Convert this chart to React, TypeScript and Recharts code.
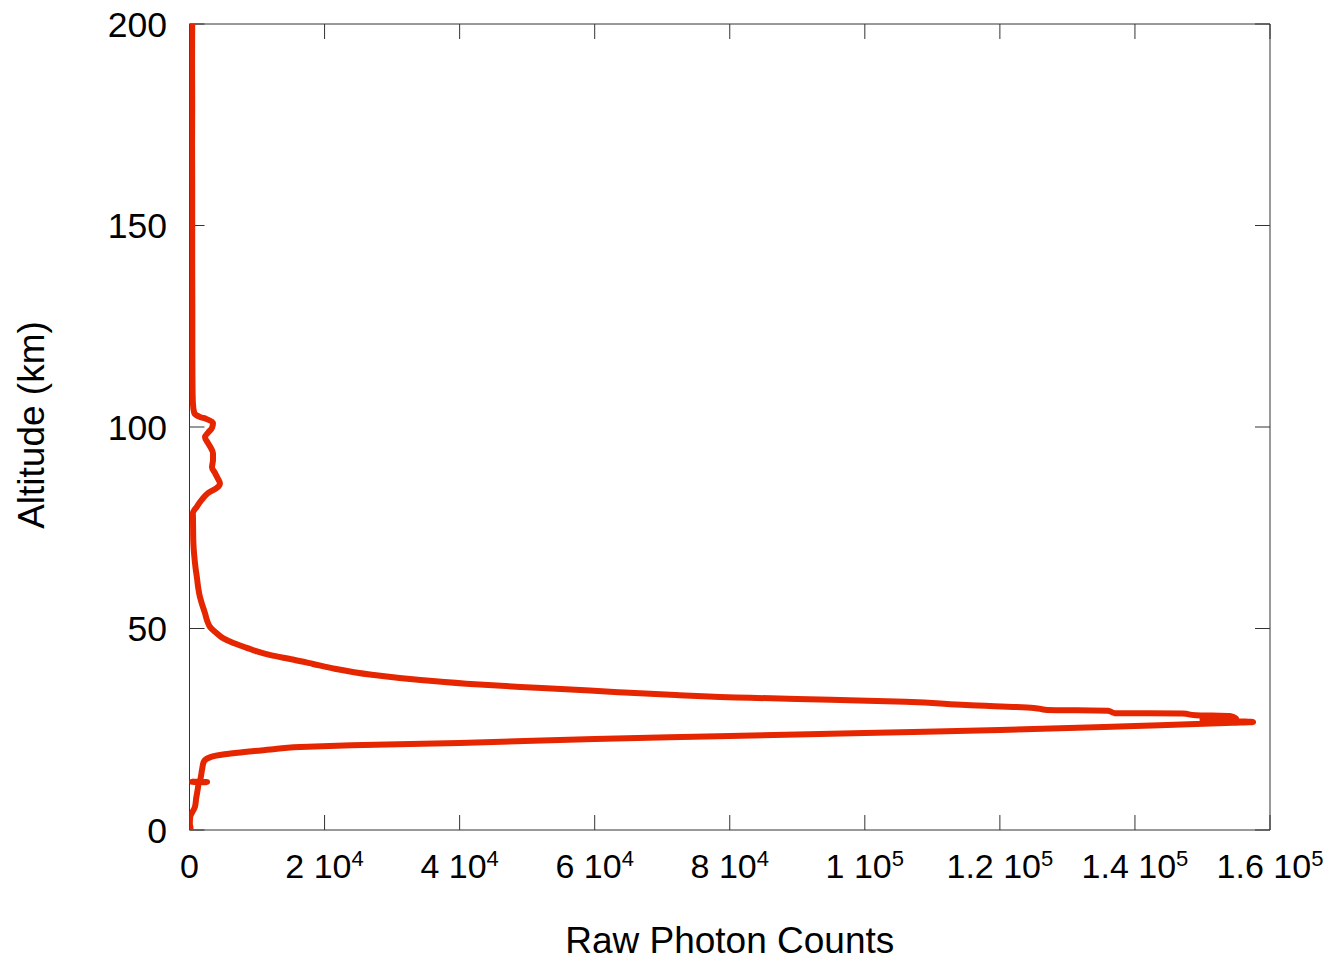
import { ScatterChart, Scatter, XAxis, YAxis, Label } from 'recharts';

// altitude (km) and raw counts, bottom to top
const altitudeKm = [
  0, 0.5, 1.5, 3.2, 5.7, 8, 9.9, 11.8, 11.9, 11.95, 12.0, 14.9, 16.9, 18.1, 18.8,
  19.4, 20.0, 20.6, 21.0, 21.6, 22.6, 23.3, 24.1, 24.8, 25.8, 26.6, 26.8, 27.3,
  27.6, 28.3, 28.5, 28.9, 29.0, 29.6, 29.8, 30.3, 31.0, 31.8, 32.3, 32.8, 33.5,
  34.2, 35.0, 35.5, 36.3, 37.2, 38.5, 40.0, 41.2, 42.3, 43.4, 44.3, 45.2, 46.4,
  47.6, 49.0, 50.4, 52.0, 53.8, 55.8, 57.8, 60.0, 62.5, 65.0, 68.7, 72.0, 76.9,
  78.6, 80.2, 81.9, 83.6, 84.9, 86.0, 87.2, 88.6, 90.0, 91.8, 93.5, 95.0, 96.0,
  97.5, 98.7, 99.8, 101.0, 102.0, 102.5, 103.5, 106, 110, 120, 130, 140, 150, 160,
  170, 180, 190, 200,
];
const photonCounts = [
  100, 150, 50, 100, 800, 1000, 1200, 1400, 2600, 300, 1500, 1850, 2100, 3100, 5200,
  8500, 12000, 16400, 24000, 40000, 60000, 80000, 100000, 120000, 140000, 154500, 157500, 150000,
  155000, 154000, 149000, 147000, 137000, 136000, 127000, 125000, 115000, 106000, 95000, 83000, 72000,
  63500, 55000, 49000, 41000, 34200, 27000, 21500, 18300, 15300, 12000, 10000, 8500, 6500,
  4960, 3900, 3030, 2600, 2290, 1900, 1550, 1300, 1110, 900, 670, 560, 520,
  500, 1070, 1800, 2740, 4070, 4510, 4200, 3770, 3330, 3480, 3480, 3100, 2740,
  2290, 2800, 3330, 3480, 2500, 1550, 700, 500, 450, 420, 420, 400, 400, 400,
  380, 400, 380, 400,
];

const xTicks = [0, 20000, 40000, 60000, 80000, 100000, 120000, 140000, 160000];
const xTickMantissa = ['0', '2', '4', '6', '8', '1', '1.2', '1.4', '1.6'];
const xTickExponent = ['', '4', '4', '4', '4', '5', '5', '5', '5'];
const yTicks = [0, 50, 100, 150, 200];

const profile = altitudeKm.map((alt, i) => ({ alt, counts: photonCounts[i] }));

const FONT = '"Liberation Sans", Arial, Helvetica, sans-serif';
const RED = '#e52600';
const FRAME = '#333';

function CountTick({ x, y, payload }: any) {
  const i = xTicks.indexOf(payload.value);
  const exp = xTickExponent[i];
  return (
    <text x={x} y={y} textAnchor="middle" fontFamily={FONT} fontSize={34} fill="#000">
      {exp ? (
        <>
          <tspan>{xTickMantissa[i]} 10</tspan>
          <tspan dy={-12} fontSize={22}>{exp}</tspan>
        </>
      ) : (
        xTickMantissa[i]
      )}
    </text>
  );
}

function AltTick({ x, y, payload }: any) {
  return (
    <text x={x} y={y} dy="0.36em" textAnchor="end" fontFamily={FONT} fontSize={35.5} fill="#000">
      {payload.value}
    </text>
  );
}

// mirrored axes keep their tick marks but show no labels
function NoLabel() {
  return <g />;
}

export default function App() {
  return (
    <div style={{ position: 'absolute', left: 0, top: 0 }}>
      <ScatterChart width={1336} height={962} margin={{ top: 23, right: 65, bottom: 0, left: 89.5 }}>
        <XAxis
          type="number"
          dataKey="counts"
          domain={[0, 160000]}
          ticks={xTicks}
          interval={0}
          allowDataOverflow
          height={132}
          tickSize={-15}
          tickMargin={63}
          tick={<CountTick />}
          axisLine={{ stroke: FRAME }}
          tickLine={{ stroke: FRAME }}
        >
          <Label
            content={({ viewBox }: any) => (
              <text
                x={viewBox.x + viewBox.width / 2}
                y={viewBox.y + 123}
                textAnchor="middle"
                fontFamily={FONT}
                fontSize={37}
                fill="#000"
              >
                Raw Photon Counts
              </text>
            )}
          />
        </XAxis>
        <XAxis
          xAxisId="top"
          orientation="top"
          type="number"
          dataKey="counts"
          domain={[0, 160000]}
          ticks={xTicks}
          interval={0}
          allowDataOverflow
          height={1}
          tickSize={-15}
          tick={<NoLabel />}
          axisLine={{ stroke: FRAME }}
          tickLine={{ stroke: FRAME }}
        />
        <YAxis
          type="number"
          dataKey="alt"
          domain={[0, 200]}
          ticks={yTicks}
          interval={0}
          allowDataOverflow
          width={100}
          tickSize={-15}
          tickMargin={37.5}
          tick={<AltTick />}
          axisLine={{ stroke: FRAME }}
          tickLine={{ stroke: FRAME }}
        >
          <Label
            content={({ viewBox }: any) => {
              const cx = viewBox.x - 58.5;
              const cy = viewBox.y + viewBox.height / 2 - 2;
              return (
                <text
                  x={cx}
                  y={cy}
                  dy="0.36em"
                  textAnchor="middle"
                  transform={`rotate(-90 ${cx} ${cy})`}
                  fontFamily={FONT}
                  fontSize={37}
                  fill="#000"
                >
                  Altitude (km)
                </text>
              );
            }}
          />
        </YAxis>
        <YAxis
          yAxisId="right"
          orientation="right"
          type="number"
          dataKey="alt"
          domain={[0, 200]}
          ticks={yTicks}
          interval={0}
          allowDataOverflow
          width={1}
          tickSize={-15}
          tick={<NoLabel />}
          axisLine={{ stroke: FRAME }}
          tickLine={{ stroke: FRAME }}
        />
        {/* invisible copy so the mirrored top/right axes get drawn */}
        <Scatter
          data={profile}
          xAxisId="top"
          yAxisId="right"
          shape={() => <g />}
          isAnimationActive={false}
        />
        <Scatter
          data={profile}
          line={{ stroke: RED, strokeWidth: 6 }}
          lineJointType="monotoneY"
          shape={() => <g />}
          isAnimationActive={false}
        />
      </ScatterChart>
    </div>
  );
}
